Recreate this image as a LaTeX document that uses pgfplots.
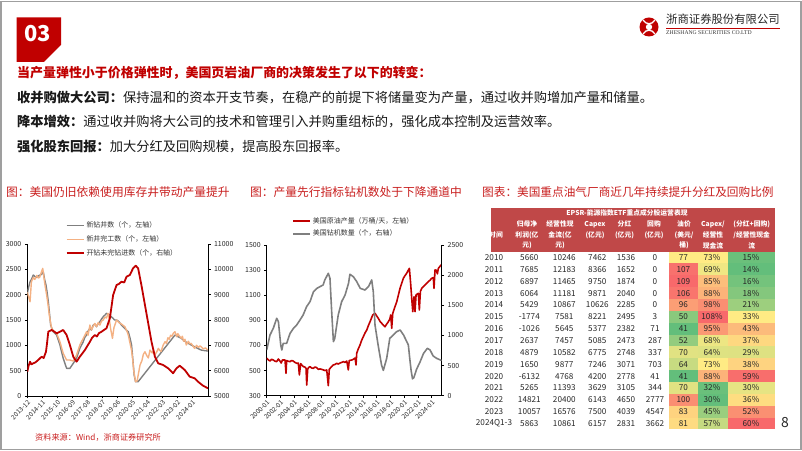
\documentclass[border=0pt]{standalone}
\usepackage{pgfplots}
\pgfplotsset{compat=1.18}
\usepackage{fontspec}
\setmainfont{Noto Sans CJK SC}
\newfontfamily\enserif{Liberation Serif}
\definecolor{boxred}{RGB}{192,0,0}
\definecolor{titred}{RGB}{200,30,30}
\definecolor{tblred}{RGB}{192,72,72}
\definecolor{gr1}{RGB}{127,127,127}
\definecolor{or1}{RGB}{244,177,131}
\definecolor{rd1}{RGB}{192,0,0}
\definecolor{hg}{RGB}{99,190,123}
\definecolor{hy}{RGB}{255,235,132}
\definecolor{hr}{RGB}{248,105,107}
\newcommand\heat[4]{%
  \pgfmathsetmacro\hLow{#1<=#3}%
  \ifdim\hLow pt>0.5pt
    \pgfmathsetmacro\hT{100*(#1-#2)/(#3-#2)}%
    \colorlet{hcol}{hy!\hT!hg}%
  \else
    \pgfmathsetmacro\hT{100*(#1-#3)/(#4-#3)}%
    \colorlet{hcol}{hr!\hT!hy}%
  \fi}
\pgfplotsset{
  base/.style={scale only axis, anchor=south west,
    axis line style={black, line width=0.6bp},
    tick style={black, line width=0.6bp},
    major tick length=2.5bp, tick align=outside,
    scaled y ticks=false, scaled x ticks=false,
    ticklabel style={font=\fontsize{7}{8}\selectfont, text=black!85},
    /pgf/number format/1000 sep={},
    /pgf/number format/assume math mode=true,
    legend image code/.code={\draw[##1] (0bp,0bp) -- (17bp,0bp);},
    legend cell align=left,
  },
  rotx/.style={xticklabel style={rotate=45, anchor=north east, inner sep=0.8bp, font=\fontsize{6.5}{7}\selectfont}},
}
\begin{document}
\begin{tikzpicture}[x=1bp,y=1bp]
\path[use as bounding box] (0,0) rectangle (802,451);
\draw[gray!75, line width=1.2bp] (1,1.5) rectangle (801,449.5);
% section box
\fill[boxred] (16.7,433.7) -- (61,433.7) -- (61,406) -- (44,389) -- (16.7,389) -- cycle;
\node[text=white, font=\bfseries\fontsize{22}{24}\selectfont] at (37.5,417) {03};
% logo
\fill[boxred] (649,424) circle (9.5);
\fill[white] (649,424) circle (3.2);
\draw[white, line width=1.3bp] (643,431) .. controls (646,426) and (652,426) .. (655,431);
\draw[white, line width=1.3bp] (643,417) .. controls (646,422) and (652,422) .. (655,417);
\node[anchor=west, inner sep=0, font=\fontsize{11.4}{12}\selectfont, text=black!85] at (666,431.5) {浙商证券股份有限公司};
\draw[boxred, line width=0.8bp] (666,422.8) -- (780,422.8);
\node[anchor=west, inner sep=0, font=\enserif\fontsize{5.7}{6}\selectfont, text=black!80] at (666,418) {ZHESHANG SECURITIES CO.LTD};
% headlines
\node[anchor=west, inner sep=0, text=boxred, font=\bfseries\fontsize{13}{15}\selectfont] at (17,378) {当产量弹性小于价格弹性时，美国页岩油厂商的决策发生了以下的转变：};
\node[anchor=west, inner sep=0, font=\fontsize{13.3}{15}\selectfont, text=black!90] at (17,353.5) {\textbf{收并购做大公司：}保持温和的资本开支节奏，在稳产的前提下将储量变为产量，通过收并购增加产量和储量。};
\node[anchor=west, inner sep=0, font=\fontsize{13.3}{15}\selectfont, text=black!90] at (17,329) {\textbf{降本增效：}通过收并购将大公司的技术和管理引入并购重组标的，强化成本控制及运营效率。};
\node[anchor=west, inner sep=0, font=\fontsize{13.3}{15}\selectfont, text=black!90] at (17,305) {\textbf{强化股东回报：}加大分红及回购规模，提高股东回报率。};
% chart titles
\node[anchor=west, inner sep=0, text=titred, font=\fontsize{11.8}{13}\selectfont] at (6,259) {图：美国仍旧依赖使用库存井带动产量提升};
\node[anchor=west, inner sep=0, text=titred, font=\fontsize{11.8}{13}\selectfont] at (250,259) {图：产量先行指标钻机数处于下降通道中};
\node[anchor=west, inner sep=0, text=titred, font=\fontsize{11.7}{13}\selectfont] at (482,259) {图表：美国重点油气厂商近几年持续提升分红及回购比例};
\node[anchor=west, inner sep=0, text=titred, font=\fontsize{8.2}{9}\selectfont] at (35,14) {资料来源：Wind，浙商证券研究所};
\node[inner sep=0, text=black!85, font=\fontsize{14}{15}\selectfont] at (785,28) {8};

% ---------------- chart 1 ----------------
\begin{axis}[base, rotx, at={(27.3bp,55bp)}, width=180.7bp, height=152bp,
  xmin=0, xmax=132.4, ymin=0, ymax=3000, ytick={0,500,...,3000},
  axis y line*=left, axis x line*=bottom,
  xtick={0,11,...,121},
  xticklabels={2013-12,2014-11,2015-10,2016-09,2017-08,2018-07,2019-06,2020-05,2021-04,2022-03,2023-02,2024-01}]
\addplot[gr1, line width=1.4bp, line join=round] coordinates {
(0,2026)(1,2150)(2,2254)(3,2300)(4.4,2387)(5.5,2360)(6.8,2340)(8,2370)(9.3,2387)(10.5,2400)(11.7,2452)(12.7,2300)(13.7,2189)(14.5,2050)(15.4,1860)(16.2,1650)(17.1,1400)(19,1268)(21.5,1203)(23.9,1006)(26.3,744)(28.8,546)(31.2,546)(33.7,645)(36.1,744)(38.5,940)(41,1071)(42,1150)(43.4,1203)(44.5,1280)(45.9,1335)(47,1300)(48.3,1400)(49.5,1420)(50.7,1367)(52,1430)(53.2,1466)(54.4,1520)(55.6,1564)(57,1600)(58,1631)(59.2,1620)(60.5,1598)(61.7,1560)(62.9,1532)(64,1500)(65.4,1500)(67,1470)(69,1400)(71.5,1330)(74,1268)(75.2,1150)(76.4,1006)(77.4,700)(78.3,414)(79.3,282)(81.2,282)(108.2,1203)(110.5,1170)(112.8,1138)(116.5,1060)(120.1,1006)(124,950)(127.4,907)(130,895)(132.3,888)};
\addplot[or1, line width=1.4bp, line join=round] coordinates {
(0,2050)(1,1950)(2,1860)(3,2254)(4.4,2340)(5.5,2300)(7,2380)(8,2330)(9,2340)(10,2420)(11.3,2519)(12.3,2320)(13.2,2150)(14.2,1990)(15.2,1800)(16.1,1597)(17.8,1335)(20,1260)(21.5,1237)(23.9,1071)(26.3,842)(28.8,710)(31.2,710)(33.7,690)(36.1,809)(38.5,1006)(41,1138)(42.2,1200)(43.4,1268)(44.5,1200)(45.9,1400)(47,1302)(48.3,1380)(49.5,1433)(50.7,1367)(52,1450)(53.2,1400)(54.4,1480)(55.6,1500)(57,1560)(58,1540)(59.2,1630)(60.2,1500)(61,1335)(62.4,1138)(63.5,1350)(65.4,1500)(67,1450)(69,1420)(71.5,1367)(73,1280)(74,1203)(75.2,1050)(76.4,900)(77.3,700)(78,500)(79.3,282)(80.5,300)(81.5,450)(82.6,611)(84,700)(85,820)(86.2,874)(87.5,800)(88.7,750)(89.9,907)(91.5,850)(92.5,900)(93.5,809)(95,880)(96,940)(97,900)(98,880)(99.5,1000)(100.9,1071)(102,1040)(103,1150)(104,1120)(105,1200)(106,1180)(107,1237)(108.2,1268)(109.5,1170)(110.3,1230)(111,1200)(112.8,1138)(113.6,1180)(114.5,1080)(115.5,1120)(116.5,1006)(118,1080)(119,1030)(120.1,1039)(121.5,980)(122.6,940)(124,1000)(125.5,960)(126.5,990)(127.4,972)(129,930)(130.5,950)(132.3,907)};
\end{axis}
\begin{axis}[base, at={(27.3bp,55bp)}, width=180.7bp, height=152bp,
  xmin=0, xmax=132.4, ymin=5000, ymax=11000, ytick={5000,6000,...,11000},
  axis y line*=right, axis x line=none,
  legend style={draw=none, fill=none, at={(axis description cs:0.195,1.175)}, anchor=north west,
    font=\fontsize{7}{8}\selectfont, text=black!80, row sep=2.5bp}]
\addlegendimage{gr1, line width=1.4bp}
\addlegendentry{新钻井数（个，左轴）}
\addlegendimage{or1, line width=1.4bp}
\addlegendentry{新井完工数（个，左轴）}
\addplot[rd1, line width=1.8bp, line join=round] coordinates {
(0,5959)(1,6200)(2,6354)(3,6250)(4.4,6290)(6,6330)(8,6421)(9.5,6500)(10.5,6551)(12,6500)(13.7,6749)(14.5,7100)(15.4,7538)(17.8,7605)(19.5,7550)(21.5,7474)(23.9,7538)(26.3,7605)(28.8,7408)(31.2,7013)(33.7,6551)(36.1,6354)(38.5,6551)(42.2,6815)(45.9,7143)(47.5,7300)(49.5,7408)(51,7350)(52.5,7480)(54.4,7538)(56,7600)(58,7672)(60.5,8067)(62.9,8987)(65.4,9380)(67,9420)(69,9511)(71,9480)(72.7,9709)(75.1,9776)(77.5,10040)(79.5,10143)(81.2,10040)(83.6,9380)(86.2,8592)(88.6,7870)(91,7143)(93.5,6551)(95.9,6290)(99.5,6224)(103.2,6093)(106.8,5896)(109.3,6093)(111.7,6196)(115.4,6026)(119,5762)(122.7,5699)(125.1,5565)(128.7,5408)(132.4,5304)};
\addlegendentry{开钻未完钻进数（个，右轴）}
\end{axis}

% ---------------- chart 2 ----------------
\begin{axis}[base, rotx, at={(266.7bp,55.3bp)}, width=175bp, height=150.7bp,
  xmin=2000, xmax=2025.45, ymin=300, ymax=1500, ytick={300,500,...,1500},
  axis y line*=left, axis x line*=bottom,
  xtick={2000,2002,...,2024},
  xticklabels={2000-01,2002-01,2004-01,2006-01,2008-01,2010-01,2012-01,2014-01,2016-01,2018-01,2020-01,2022-01,2024-01}]
\addplot[rd1, line width=1.6bp, line join=round] coordinates {
(2000.0,598)(2000.25,585)(2000.48,576)(2000.7,590)(2000.96,584)(2001.2,575)(2001.45,571)(2001.69,592)(2001.93,576)(2002.1,560)(2002.3,585)(2002.66,584)(2002.81,478)(2002.9,580)(2003.1,575)(2003.39,571)(2003.6,580)(2003.87,576)(2004.1,565)(2004.36,558)(2004.6,560)(2004.75,465)(2004.94,555)(2005.1,545)(2005.33,531)(2005.5,530)(2005.72,518)(2005.82,385)(2005.96,510)(2006.1,525)(2006.3,531)(2006.55,520)(2006.78,518)(2007.0,528)(2007.27,524)(2007.5,510)(2007.75,513)(2008.0,510)(2008.24,505)(2008.5,500)(2008.73,505)(2008.96,380)(2009.1,510)(2009.4,530)(2009.69,545)(2009.9,548)(2010.18,558)(2010.4,552)(2010.66,560)(2010.9,565)(2011.15,571)(2011.4,565)(2011.64,576)(2011.87,505)(2012.0,580)(2012.36,584)(2012.6,590)(2012.85,600)(2012.99,545)(2013.09,638)(2013.3,670)(2013.57,704)(2013.8,740)(2014.05,770)(2014.3,800)(2014.55,823)(2014.8,860)(2015.03,889)(2015.25,920)(2015.42,943)(2015.6,950)(2015.75,956)(2016.0,935)(2016.23,916)(2016.5,890)(2016.73,876)(2017.0,860)(2017.2,849)(2017.45,870)(2017.69,889)(2017.9,910)(2018.04,943)(2018.18,837)(2018.33,955)(2018.6,1000)(2018.91,1048)(2019.1,1090)(2019.39,1155)(2019.6,1190)(2019.87,1235)(2020.1,1255)(2020.36,1275)(2020.55,1295)(2020.75,1314)(2020.95,1181)(2021.09,1075)(2021.24,969)(2021.43,1088)(2021.57,969)(2021.72,1102)(2021.9,1110)(2022.05,1115)(2022.2,982)(2022.35,1130)(2022.55,1155)(2022.8,1170)(2023.03,1181)(2023.25,1195)(2023.51,1208)(2023.75,1220)(2024.0,1235)(2024.23,1240)(2024.33,1155)(2024.48,1301)(2024.65,1300)(2024.82,1270)(2024.96,1314)(2025.2,1330)(2025.45,1346)};
\end{axis}
\begin{axis}[base, at={(266.7bp,55.3bp)}, width=175bp, height=150.7bp,
  xmin=2000, xmax=2025.45, ymin=0, ymax=2500, ytick={0,500,...,2500},
  axis y line*=right, axis x line=none,
  legend style={draw=none, fill=none, at={(axis description cs:0.128,1.21)}, anchor=north west,
    font=\fontsize{7}{8}\selectfont, text=black!80, row sep=1bp}]
\addlegendimage{rd1, line width=1.6bp}
\addlegendentry{美国原油产量（万桶/天，左轴）}
\addplot[gr1, line width=1.6bp, line join=round] coordinates {
(2000.00,758)(2000.48,1007)(2000.96,1118)(2001.45,1284)(2001.7,1228)(2002.04,841)(2002.2,758)(2002.4,869)(2002.9,869)(2003.4,1035)(2003.9,1118)(2004.36,1173)(2004.84,1256)(2005.3,1339)(2005.8,1477)(2006.3,1560)(2006.8,1725)(2007.3,1781)(2007.75,1809)(2008.2,1836)(2008.45,1920)(2008.96,2031)(2009.2,1948)(2009.45,1394)(2009.7,896)(2009.9,952)(2010.4,1339)(2010.9,1560)(2011.4,1671)(2011.9,1865)(2012.1,2014)(2012.6,1974)(2013.1,1891)(2013.6,1781)(2014.3,1753)(2014.8,1809)(2015.27,1920)(2015.5,1725)(2015.75,1173)(2016.2,841)(2016.7,509)(2016.96,420)(2017.45,620)(2017.9,952)(2018.4,1007)(2018.9,1062)(2019.4,1090)(2019.9,1007)(2020.6,841)(2020.8,620)(2021.0,420)(2021.2,280)(2021.4,300)(2021.8,440)(2022.3,560)(2022.8,700)(2023.36,786)(2023.75,760)(2024.2,660)(2024.7,620)(2025.27,592)(2025.45,585)};
\addlegendentry{美国钻机数量（个，右轴）}
\end{axis}

% ---------------- table ----------------
\fill[tblred] (490.7,243) rectangle (775,199.3);
\begin{scope}[every node/.style={text=white, inner sep=0, font=\bfseries\fontsize{6.8}{8}\selectfont}]
\node at (627,237.7) {EPSR-能源指数ETF重点成分股运营表现};
\node at (496,216) {时间};
\node at (527,226.7) {归母净}; \node at (527,216) {利润(亿}; \node at (527,205.5) {元)};
\node at (560,226.7) {经营性现}; \node at (560,216) {金流(亿}; \node at (560,205.5) {元)};
\node at (595,226.7) {Capex}; \node at (595,216) {(亿元)};
\node at (624.5,226.7) {分红}; \node at (624.5,216) {(亿元)};
\node at (654,226.7) {回购}; \node at (654,216) {(亿元)};
\node at (684,226.7) {油价}; \node at (684,216) {(美元/}; \node at (684,205.5) {桶)};
\node at (713,226.7) {Capex/}; \node at (713,216) {经营性}; \node at (713,205.5) {现金流};
\node at (751.7,226.7) {(分红+回购)}; \node at (751.7,216) {/经营性现金}; \node at (751.7,205.5) {流};
\end{scope}
\foreach \i/\yr/\a/\b/\c/\d/\e/\oil/\cx/\pay in {
0/2010/5660/10246/7462/1536/0/77/73/15,
1/2011/7685/12183/8366/1652/0/107/69/14,
2/2012/6897/11465/9750/1874/0/109/85/16,
3/2013/6064/11181/9871/2040/0/106/88/18,
4/2014/5429/10867/10626/2285/0/96/98/21,
5/2015/-1774/7581/8221/2495/3/50/108/33,
6/2016/-1026/5645/5377/2382/71/41/95/43,
7/2017/2637/7457/5085/2473/287/52/68/37,
8/2018/4879/10582/6775/2748/337/70/64/29,
9/2019/1650/9877/7246/3071/703/64/73/38,
10/2020/-6132/4768/4200/2778/41/41/88/59,
11/2021/5265/11393/3629/3105/344/70/32/30,
12/2022/14821/20400/6143/4650/2777/100/30/36,
13/2023/10057/16576/7500/4039/4547/83/45/52,
14/2024Q1-3/5863/10861/6157/2831/3662/81/57/60}{
  \pgfmathsetmacro\yy{193.4-11.85*\i}
  \heat{\oil}{41}{77}{109}
  \fill[hcol] (669.3,\yy-5.95) rectangle (698.3,\yy+5.95);
  \heat{\cx}{30}{73}{108}
  \fill[hcol] (698.3,\yy-5.95) rectangle (728.3,\yy+5.95);
  \heat{\pay}{14}{33}{60}
  \fill[hcol] (728.3,\yy-5.95) rectangle (775,\yy+5.95);
  \begin{scope}[every node/.style={inner sep=0, text=black!85, font=\fontsize{8.2}{9}\selectfont}]
  \node at (494,\yy) {\yr};
  \node at (529.3,\yy) {\a};
  \node at (564.3,\yy) {\b};
  \node at (597.3,\yy) {\c};
  \node at (626,\yy) {\d};
  \node at (655,\yy) {\e};
  \node at (683.3,\yy) {\oil};
  \node at (712,\yy) {\cx\%};
  \node at (751,\yy) {\pay\%};
  \end{scope}
}
\end{tikzpicture}
\end{document}
